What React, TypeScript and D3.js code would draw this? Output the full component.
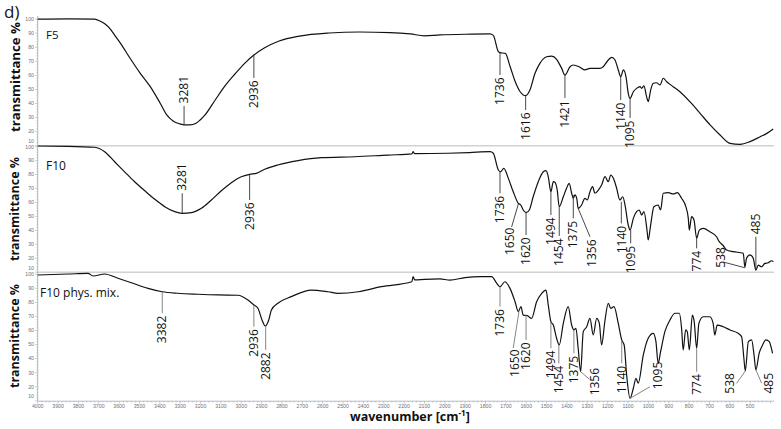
import React from "react";
import * as d3 from "d3";

type Pt = [number, number];

// axis tick labels
const wavenumberTicks = [4000, 3900, 3800, 3700, 3600, 3500, 3400, 3300, 3200, 3100, 3000, 2900, 2800, 2700, 2600, 2500, 2400, 2300, 2200, 2100, 2000, 1900, 1800, 1700, 1600, 1500, 1400, 1300, 1200, 1100, 1000, 900, 800, 700, 600, 500];
const transmittanceTicks = [10, 20, 30, 40, 50, 60, 70, 80, 90, 100];

// spectra: [wavenumber, transmittance %]
const f5Spectrum: Pt[] = [
  [4000, 100], [3850, 100.3], [3720, 100], [3694, 98.7], [3669, 96.6], [3643, 93], [3619, 88], [3594, 83],
  [3547, 72.4], [3497, 61.7], [3447, 52], [3399, 40.4], [3366, 31.9], [3335, 27.6], [3301, 25.5], [3281, 24.8],
  [3252, 24.8], [3222, 26], [3202, 28.3], [3178, 31.9], [3128, 42.5], [3080, 52.5], [3031, 61], [2982, 68.8],
  [2938, 74.5], [2887, 79.5], [2814, 84.5], [2715, 88], [2568, 90.2], [2420, 90.9], [2270, 90.5], [2170, 89.5],
  [2100, 88.2], [2024, 88.8], [1900, 89.3], [1778, 89.5], [1762, 88.5], [1737, 76.9], [1729, 76.2], [1703, 75.7],
  [1679, 66.2], [1654, 55.5], [1630, 48.4], [1603, 45.6], [1582, 49.6], [1557, 61.5], [1533, 68.6], [1500, 73.3],
  [1475, 73.8], [1451, 71.5], [1426, 65], [1410, 60.3], [1385, 66.2], [1369, 67.4], [1336, 65.8], [1312, 63.9],
  [1287, 65], [1238, 65], [1222, 66.2], [1197, 71], [1180, 72.9], [1164, 71], [1148, 63.9], [1136, 59.1],
  [1123, 63.9], [1110, 59], [1099, 47.3], [1090, 43.7], [1074, 48.4], [1058, 50.8], [1041, 52], [1033, 50.8],
  [1022, 52.5], [1009, 44.9], [1001, 41.3], [989, 49.6], [976, 54.4], [960, 54.8], [943, 53.2], [927, 58],
  [910, 55.5], [878, 52], [845, 48.4], [796, 41.3], [746, 33], [697, 24.8], [648, 17.6], [599, 11.7],
  [550, 11], [501, 12.9], [451, 16.4], [420, 18.6], [387, 21.9],
];

const f10Spectrum: Pt[] = [
  [4000, 100.5], [3850, 100.3], [3720, 99.6], [3671, 96.4], [3622, 89.2], [3573, 82], [3524, 74.9], [3474, 68.4],
  [3425, 62.3], [3376, 57], [3327, 53.4], [3290, 52.2], [3245, 52.7], [3196, 55.8], [3147, 61.8], [3098, 68.4],
  [3049, 74.2], [3000, 78.5], [2959, 80.2], [2926, 80.9], [2885, 83.8], [2820, 86.9], [2721, 90], [2607, 92.1],
  [2443, 92.8], [2279, 94], [2162, 94.8], [2156, 96.4], [2148, 95], [1985, 95.3], [1880, 95.8], [1778, 96.4],
  [1762, 95.3], [1737, 83.3], [1726, 82], [1710, 84.5], [1688, 77.3], [1664, 67.7], [1639, 59.4], [1627, 58.2],
  [1615, 54.6], [1601, 52.7], [1585, 54.6], [1566, 64.1], [1541, 74.9], [1516, 82], [1503, 82.8], [1492, 78.5],
  [1479, 67.7], [1467, 74.9], [1459, 74.5], [1448, 68.9], [1438, 57], [1418, 64.1], [1402, 70.2], [1389, 73.7],
  [1377, 66.6], [1369, 63], [1361, 65.4], [1352, 63], [1345, 55.8], [1328, 58.2], [1312, 63], [1300, 61.8],
  [1287, 67.7], [1274, 71.3], [1263, 66.6], [1246, 68.9], [1230, 72.5], [1213, 78.5], [1197, 74.9], [1185, 79.7],
  [1172, 77.3], [1156, 70.2], [1140, 61.8], [1126, 64.1], [1115, 58.2], [1099, 43.8], [1090, 40.2], [1074, 48.6],
  [1058, 53.4], [1045, 54.6], [1033, 51], [1022, 53.4], [1006, 39], [1001, 33.1], [989, 43.8], [973, 57],
  [952, 58.2], [940, 54.6], [927, 66.6], [902, 67], [878, 66.1], [858, 67], [837, 63], [816, 57],
  [804, 48.6], [799, 40.2], [788, 49.8], [776, 47.4], [763, 34.3], [750, 40.2], [731, 41.4], [698, 39],
  [665, 35.4], [652, 31.9], [635, 29.5], [616, 25.9], [583, 24.7], [534, 23.6], [526, 13.5], [518, 20],
  [501, 22.4], [485, 20], [472, 11.5], [460, 15.1], [444, 13.9], [428, 16.3], [411, 16.8], [395, 18.2], [386, 17.5],
];

const f10MixSpectrum: Pt[] = [
  [4000, 99.5], [3850, 100.2], [3753, 100.7], [3728, 98.8], [3671, 100.2], [3606, 97.2], [3540, 94], [3458, 90],
  [3388, 87.6], [3311, 86.5], [3213, 85.8], [3114, 85.3], [3016, 85.1], [2967, 81.7], [2938, 78.2], [2918, 75.8],
  [2898, 67.5], [2882, 63.2], [2865, 67.5], [2852, 74.6], [2820, 79.4], [2754, 84.1], [2656, 88.8], [2574, 87.6],
  [2525, 86.5], [2425, 87.6], [2312, 91.2], [2162, 94.7], [2156, 98.3], [2148, 96], [2099, 96.4], [2024, 96.7],
  [1975, 95.9], [1901, 97.6], [1827, 98.3], [1770, 98.3], [1745, 93.6], [1729, 91.2], [1705, 94.7], [1680, 90],
  [1655, 80.5], [1639, 73.4], [1626, 77], [1615, 71], [1595, 70.6], [1574, 68.7], [1549, 80.5], [1524, 86.5],
  [1503, 88.8], [1492, 78.2], [1479, 66.3], [1467, 63.9], [1451, 54.5], [1438, 49.7], [1418, 65.1], [1394, 77],
  [1377, 63.9], [1366, 60.4], [1356, 61.6], [1345, 47.4], [1333, 30.7], [1320, 59.2], [1303, 62.7], [1287, 68.7],
  [1271, 56.8], [1254, 68.7], [1241, 65.1], [1230, 49.7], [1213, 67.5], [1197, 79.4], [1185, 75.8], [1169, 77],
  [1148, 65.1], [1131, 53.3], [1119, 49.7], [1107, 28.4], [1090, 11.8], [1074, 18.9], [1061, 26], [1050, 22.5],
  [1025, 42.6], [1001, 54.5], [976, 58], [963, 52.1], [952, 36.7], [940, 45], [919, 59.2], [894, 67.5],
  [869, 72.3], [848, 72.3], [837, 61.6], [829, 46.2], [817, 60.4], [809, 59.2], [799, 46.2], [784, 71],
  [775, 66.3], [763, 47.4], [752, 65.1], [731, 69.8], [698, 69.8], [682, 65.1], [674, 56.8], [662, 63.9],
  [632, 62.7], [599, 60.4], [559, 58], [542, 55.6], [531, 40.3], [524, 31.3], [509, 52.1], [493, 53.3],
  [481, 42.6], [472, 32], [456, 43.8], [439, 49.7], [423, 53.3], [406, 52.1], [398, 48.5], [390, 43.8],
];

// peak labels: leader from (wn, t1) to (wnEnd, t2); optional text anchor (wnText, tText)
type Note = { label: string; wn: number; t1: number; t2: number; wnEnd?: number; wnText?: number; tText?: number };

const f5Notes: Note[] = [
  { label: "3281", wn: 3281, t1: 24.8, t2: 38.3 },
  { label: "2936", wn: 2938, t1: 74.5, t2: 58.2 },
  { label: "1736", wn: 1729, t1: 76.2, t2: 60.3 },
  { label: "1616", wn: 1603, t1: 45.4, t2: 35.4 },
  { label: "1421", wn: 1410, t1: 60.3, t2: 44 },
  { label: "1140", wn: 1136, t1: 59.1, t2: 42.5 },
  { label: "1095", wn: 1090, t1: 43.7, t2: 29.7 },
];

const f10Notes: Note[] = [
  { label: "3281", wn: 3290, t1: 52.2, t2: 66.6 },
  { label: "2936", wn: 2959, t1: 80.2, t2: 61.8 },
  { label: "1736", wn: 1729, t1: 82, t2: 66.6 },
  { label: "1650", wn: 1639, t1: 58.9, t2: 42.4, wnEnd: 1672, wnText: 1681, tText: 42 },
  { label: "1620", wn: 1601, t1: 52.7, t2: 36.7 },
  { label: "1494", wn: 1479, t1: 67.7, t2: 51 },
  { label: "1454", wn: 1438, t1: 57, t2: 36 },
  { label: "1375", wn: 1369, t1: 65.4, t2: 48.6 },
  { label: "1356", wn: 1345, t1: 55.8, t2: 35.4, wnEnd: 1287, wnText: 1279, tText: 33.5 },
  { label: "1140", wn: 1133, t1: 60.5, t2: 45 },
  { label: "1095", wn: 1087, t1: 40.2, t2: 30.7 },
  { label: "774", wn: 763, t1: 34.3, t2: 27.1 },
  { label: "538", wn: 526, t1: 13.2, t2: 17.3, wnEnd: 632, wnText: 645, tText: 28 },
  { label: "485", wn: 472, t1: 12.8, t2: 35.4 },
];

const f10MixNotes: Note[] = [
  { label: "3382", wn: 3388, t1: 87.6, t2: 72.3 },
  { label: "2936", wn: 2938, t1: 78.2, t2: 62.7 },
  { label: "2882", wn: 2880, t1: 63.2, t2: 46.2 },
  { label: "1736", wn: 1729, t1: 91.2, t2: 77 },
  { label: "1650", wn: 1636, t1: 73.4, t2: 47.4, wnEnd: 1664, wnText: 1655, tText: 46.5 },
  { label: "1620", wn: 1601, t1: 71, t2: 53.3 },
  { label: "1494", wn: 1479, t1: 66.3, t2: 47.4 },
  { label: "1454", wn: 1440, t1: 49.7, t2: 36.6 },
  { label: "1375", wn: 1366, t1: 60.4, t2: 43.8 },
  { label: "1356", wn: 1333, t1: 30.7, t2: 25.4, wnEnd: 1290, wnText: 1263, tText: 33.4 },
  { label: "1140", wn: 1131, t1: 53.3, t2: 36.7 },
  { label: "1095", wn: 1090, t1: 11.8, t2: 20, wnEnd: 992, wnText: 952, tText: 37.8 },
  { label: "774", wn: 763, t1: 47.4, t2: 30.7 },
  { label: "538", wn: 524, t1: 31.2, t2: 22.4, wnEnd: 567, wnText: 600, tText: 29.7 },
  { label: "485", wn: 472, t1: 32, t2: 22.5, wnEnd: 444, wnText: 411, tText: 29.8 },
];

const X_LEFT = 37.7;
const X_RIGHT = 774;
const FONT = "'Open Sans', 'Noto Sans', sans-serif";

export default function App() {
  const x = d3.scaleLinear().domain([4000, 383]).range([X_LEFT, X_RIGHT]);

  const panels = [
    { name: "F5", data: f5Spectrum, notes: f5Notes, top: 16, y10: 145.7, y100: 19.2, titleY: 77, titleSize: 13.2, nameX: 46, nameY: 39, nameSize: 11.5, leader: "#333" },
    { name: "F10", data: f10Spectrum, notes: f10Notes, top: 146, y10: 272.2, y100: 146.7, titleY: 209, titleSize: 12.5, nameX: 46, nameY: 170, nameSize: 12, leader: "#333" },
    { name: "F10 phys. mix.", data: f10MixSpectrum, notes: f10MixNotes, top: 272, y10: 400.8, y100: 274.3, titleY: 336, titleSize: 12.5, nameX: 40, nameY: 296.7, nameSize: 12, leader: "#777" },
  ];

  const minorX = d3.range(4000, 383, -20);

  return (
    <svg width={781} height={429} style={{ position: "absolute", left: 0, top: 0, background: "#fff" }}>
      <text x={4} y={18} fontFamily={FONT} fontSize={17} fill="#111">d)</text>

      {panels.map((p, i) => {
        const y = d3.scaleLinear().domain([10, 100]).range([p.y10, p.y100]);
        const line = d3.line<Pt>().x(d => x(d[0])).y(d => y(d[1])).curve(d3.curveMonotoneX);
        const minorY = d3.range(10, 101, 2);
        return (
          <g key={p.name}>
            {/* y axis */}
            <line x1={X_LEFT} x2={X_LEFT} y1={p.top} y2={p.y10} stroke="#9aa" strokeWidth={0.8} />
            {minorY.map(v => (
              <line key={v} x1={X_LEFT - (v % 10 === 0 ? 2.5 : 1.2)} x2={X_LEFT} y1={y(v)} y2={y(v)} stroke="#9aa" strokeWidth={0.6} />
            ))}
            {transmittanceTicks.map(v => (
              <text key={v} x={34} y={v === 10 ? y(v) - 4.5 : y(v)} dy="0.35em" textAnchor="end" fontFamily="'Liberation Sans', sans-serif" fontSize={5.2} fill="#6a7480">{v}</text>
            ))}
            {i < 2 && <line x1={X_LEFT} x2={X_RIGHT} y1={p.y10} y2={p.y10} stroke="#d2d2d2" strokeWidth={1.6} />}

            <text transform={`translate(15,${p.titleY}) rotate(-90)`} textAnchor="middle" dy="0.35em" fontFamily={FONT} fontWeight="bold" fontSize={p.titleSize} fill="#111">transmittance %</text>
            <text x={p.nameX} y={p.nameY} fontFamily={FONT} fontSize={p.nameSize} fill="#111">{p.name}</text>

            <path d={line(p.data) ?? ""} fill="none" stroke="#111" strokeWidth={1.2} strokeLinejoin="round" />

            {p.notes.map(n => {
              const xe = x(n.wnEnd ?? n.wn);
              const ye = y(n.t2);
              const up = n.t2 > n.t1 && n.tText === undefined;
              const xt = x(n.wnText ?? n.wnEnd ?? n.wn);
              const yt = n.tText !== undefined ? y(n.tText) : ye + (up ? -2.5 : 2.5);
              return (
                <g key={n.label}>
                  <line x1={x(n.wn)} y1={y(n.t1)} x2={xe} y2={ye} stroke={p.leader} strokeWidth={0.9} />
                  <text transform={`translate(${xt},${yt}) rotate(-90)`} textAnchor={up ? "start" : "end"} dy="0.35em" fontFamily={FONT} fontSize={12} fill="#111">{n.label}</text>
                </g>
              );
            })}
          </g>
        );
      })}

      {/* x axis */}
      <line x1={X_LEFT} x2={X_RIGHT} y1={401.2} y2={401.2} stroke="#aab" strokeWidth={0.8} />
      {minorX.map(v => (
        <line key={v} x1={x(v)} x2={x(v)} y1={401.2} y2={401.2 + (v % 100 === 0 ? 2.5 : 1.3)} stroke="#9aa" strokeWidth={0.6} />
      ))}
      {wavenumberTicks.map(v => (
        <text key={v} x={x(v)} y={407.5} textAnchor="middle" fontFamily="'Liberation Sans', sans-serif" fontSize={5.2} fill="#6a7480">{v}</text>
      ))}
      <text x={350} y={421} fontFamily={FONT} fontWeight="bold" fontSize={12.5} fill="#111">
        wavenumber [cm<tspan dy={-5} fontSize={8}>-1</tspan><tspan dy={5}>]</tspan>
      </text>
    </svg>
  );
}
